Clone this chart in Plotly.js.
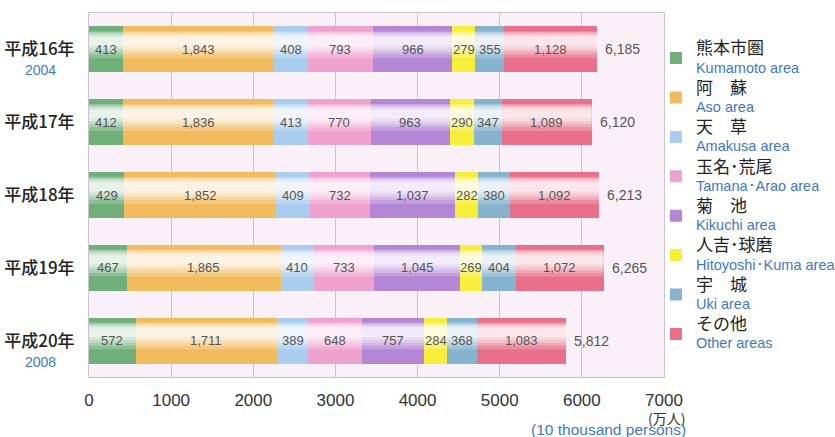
<!DOCTYPE html>
<html><head><meta charset="utf-8">
<script src="https://cdn.plot.ly/plotly-3.0.1.min.js"></script>
<style>html,body{margin:0;padding:0;background:#fff}#c{width:835px;height:437px}</style>
</head><body><div id="c"></div>
<script>
const years = ['平成16年','平成17年','平成18年','平成19年','平成20年'];
const yearSub = ['2004','','','','2008'];
const seriesJa = ['熊本市圏','阿\u3000蘇','天\u3000草','玉名･荒尾','菊\u3000池','人吉･球磨','宇\u3000城','その他'];
const seriesEn = ['Kumamoto area','Aso area','Amakusa area','Tamana･Arao area','Kikuchi area','Hitoyoshi･Kuma area','Uki area','Other areas'];
const kumamoto = [413, 412, 429, 467, 572];
const aso = [1843, 1836, 1852, 1865, 1711];
const amakusa = [408, 413, 409, 410, 389];
const tamana = [793, 770, 732, 733, 648];
const kikuchi = [966, 963, 1037, 1045, 757];
const hitoyoshi = [279, 290, 282, 269, 284];
const uki = [355, 347, 380, 404, 368];
const others = [1128, 1089, 1092, 1072, 1083];
const totals = [6185, 6120, 6213, 6265, 5812];
const xTicks = [0, 1000, 2000, 3000, 4000, 5000, 6000, 7000];

const series = [kumamoto, aso, amakusa, tamana, kikuchi, hitoyoshi, uki, others];
const colors = ['#6fb07a','#f2bc5e','#a9cdee','#f0a2cf','#b487d6','#f7ee3a','#86b4cf','#e8708a'];

const fmt = v => v.toLocaleString('en-US');
const traces = series.map((vals, k) => ({
  type: 'bar', orientation: 'h', y: years, x: vals,
  name: '<span style="font-size:17px">' + seriesJa[k] + '</span><br><span style="color:#3f78c8;font-size:14.5px;font-family:Liberation Sans, Arial">' + seriesEn[k] + '</span>',
  legendgroup: 'g' + k,
  marker: {color: colors[k], line: {width: 0}},
  width: 0.63,
  hoverinfo: 'x+name'
}));

const labelFont = {family: 'Liberation Sans Narrow, Liberation Sans, Arial', size: 13, color: '#555'};
const annotations = [];
const shapes = [];
const bands = [[-0.25, 0.12, 0.2], [-0.24, 0.07, 0.25], [-0.22, 0.03, 0.3], [-0.2, -0.01, 0.35], [-0.17, -0.05, 0.4]];
years.forEach((yr, i) => {
  let cum = 0;
  series.forEach((vals) => {
    annotations.push({x: cum + vals[i] / 2, y: i, xref: 'x', yref: 'y', text: fmt(vals[i]),
      showarrow: false, font: labelFont});
    cum += vals[i];
  });
  annotations.push({x: totals[i], y: i, xref: 'x', yref: 'y', text: fmt(totals[i]), xanchor: 'left', xshift: 6,
    showarrow: false, font: {family: 'Liberation Sans Narrow, Liberation Sans, Arial', size: 14, color: '#555'}});
  if (yearSub[i]) {
    annotations.push({x: -0.0835, xref: 'paper', xanchor: 'center', y: i, yref: 'y', yshift: -21, text: yearSub[i], showarrow: false,
      font: {family: 'Liberation Sans, Arial', size: 14, color: '#3f78c8'}});
  }
  bands.forEach(b => {
    shapes.push({type: 'rect', xref: 'x', yref: 'y', x0: 0, x1: totals[i], y0: i + b[0], y1: i + b[1],
      fillcolor: 'rgba(255,255,255,' + b[2] + ')', line: {width: 0}, layer: 'above'});
  });
});
annotations.push({x: 1.04, xref: 'paper', xanchor: 'right', y: -0.08, yref: 'paper', yanchor: 'top', text: '(万人)', showarrow: false,
  font: {family: 'Noto Sans CJK JP', size: 14, color: '#333'}});
annotations.push({x: 1.042, xref: 'paper', xanchor: 'right', y: -0.115, yref: 'paper', yanchor: 'top', text: '(10 thousand persons)', showarrow: false,
  font: {family: 'Liberation Sans, Arial', size: 15.5, color: '#3f78c8'}});

const layout = {
  width: 835, height: 437,
  margin: {l: 89, r: 171, t: 13, b: 60, autoexpand: false},
  paper_bgcolor: '#ffffff', plot_bgcolor: '#faf0f8',
  barmode: 'stack', bargap: 0.37,
  showlegend: true,
  legend: {x: 0.986, xanchor: 'left', y: 0.944, yanchor: 'top', traceorder: 'grouped', tracegroupgap: 0,
    font: {family: 'Noto Sans CJK JP, Liberation Sans', size: 14, color: '#222'},
    itemwidth: 30, bgcolor: 'rgba(0,0,0,0)'},
  xaxis: {range: [0, 7000], tickvals: xTicks, ticktext: xTicks.map(String),
    showgrid: true, gridcolor: '#cfc2cf', gridwidth: 1, zeroline: false,
    showline: true, linecolor: '#cfc2cf', mirror: true, ticks: '',
    ticklabelstandoff: 8,
    tickfont: {family: 'Liberation Sans, Arial', size: 17, color: '#333'}, fixedrange: true},
  yaxis: {type: 'category', categoryorder: 'array', categoryarray: years, autorange: 'reversed',
    showgrid: false, zeroline: false, showline: true, linecolor: '#cfc2cf', mirror: true, ticks: '',
    ticklabelstandoff: 10,
    tickfont: {family: 'Noto Sans CJK JP', size: 17, color: '#222', weight: 500}, fixedrange: true},
  annotations: annotations, shapes: shapes
};
Plotly.newPlot('c', traces, layout, {displayModeBar: false, staticPlot: true});
</script></body></html>
